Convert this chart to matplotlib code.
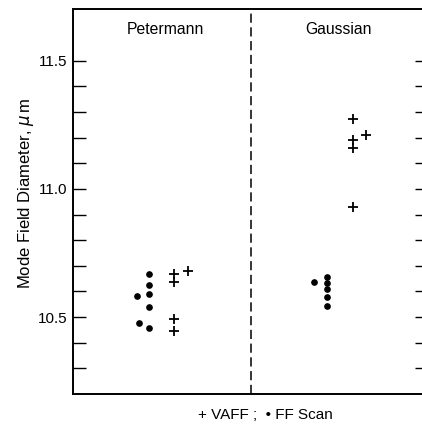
import matplotlib
matplotlib.use("Agg")
import matplotlib.pyplot as plt
from matplotlib.ticker import FixedLocator

plt.rcParams['font.family'] = ['Liberation Sans', 'DejaVu Sans']
plt.rcParams['mathtext.fontset'] = 'dejavusans'

# column positions (0-1 Petermann, 1-2 Gaussian) and mode field diameters (um)
pet_ff_x = [0.429, 0.429, 0.429, 0.429, 0.429, 0.358, 0.373]
pet_ff_y = [10.668, 10.627, 10.590, 10.540, 10.459, 10.583, 10.477]
pet_vaff_x = [0.570, 0.570, 0.570, 0.570, 0.645]
pet_vaff_y = [10.670, 10.638, 10.492, 10.447, 10.681]

gau_ff_x = [1.358, 1.429, 1.429, 1.429, 1.429, 1.429]
gau_ff_y = [10.638, 10.655, 10.635, 10.608, 10.577, 10.543]
gau_vaff_x = [1.574, 1.574, 1.574, 1.574, 1.647]
gau_vaff_y = [11.271, 11.189, 11.161, 10.930, 11.209]

sections = ['Petermann', 'Gaussian']
major_ticks = [10.5, 11.0, 11.5]
minor_ticks = [10.3, 10.4, 10.6, 10.7, 10.8, 10.9, 11.1, 11.2, 11.3, 11.4]

fig = plt.figure(figsize=(4.22, 4.26), dpi=100)
ax = fig.add_axes([0.173, 0.0751, 0.842, 0.9026])

ax.plot(pet_ff_x + gau_ff_x, pet_ff_y + gau_ff_y, 'o', color='black',
        markersize=3.8, linestyle='none')
ax.plot(pet_vaff_x + gau_vaff_x, pet_vaff_y + gau_vaff_y, '+', color='black',
        markersize=7, markeredgewidth=1.3, linestyle='none')

ax.axvline(1.0, color='black', linestyle=(0, (6, 3)), linewidth=1.1)

ax.set_xlim(0, 2)
ax.set_ylim(10.2, 11.7)
ax.set_yticks(major_ticks)
ax.set_yticklabels(['10.5', '11.0', '11.5'])
ax.yaxis.set_minor_locator(FixedLocator(minor_ticks))
ax.set_xticks([])
ax.tick_params(which='both', direction='in', length=9.5, width=1.0,
               left=True, right=True, bottom=False, labelbottom=False,
               labelsize=11, pad=4)
for s in ax.spines.values():
    s.set_linewidth(1.4)

ax.text(0.518, 11.621, sections[0], ha='center', va='center', fontsize=11.3)
ax.text(1.497, 11.621, sections[1], ha='center', va='center', fontsize=11.3)

fig.text(0.061, 0.547, 'Mode Field Diameter, $\\mu\\,$m', rotation=90,
         ha='center', va='center', fontsize=12)
fig.text(0.628, 0.026, '+ VAFF ;  \u2022 FF Scan', ha='center', va='center',
         fontsize=11)

fig.savefig('out.png', dpi=100)
